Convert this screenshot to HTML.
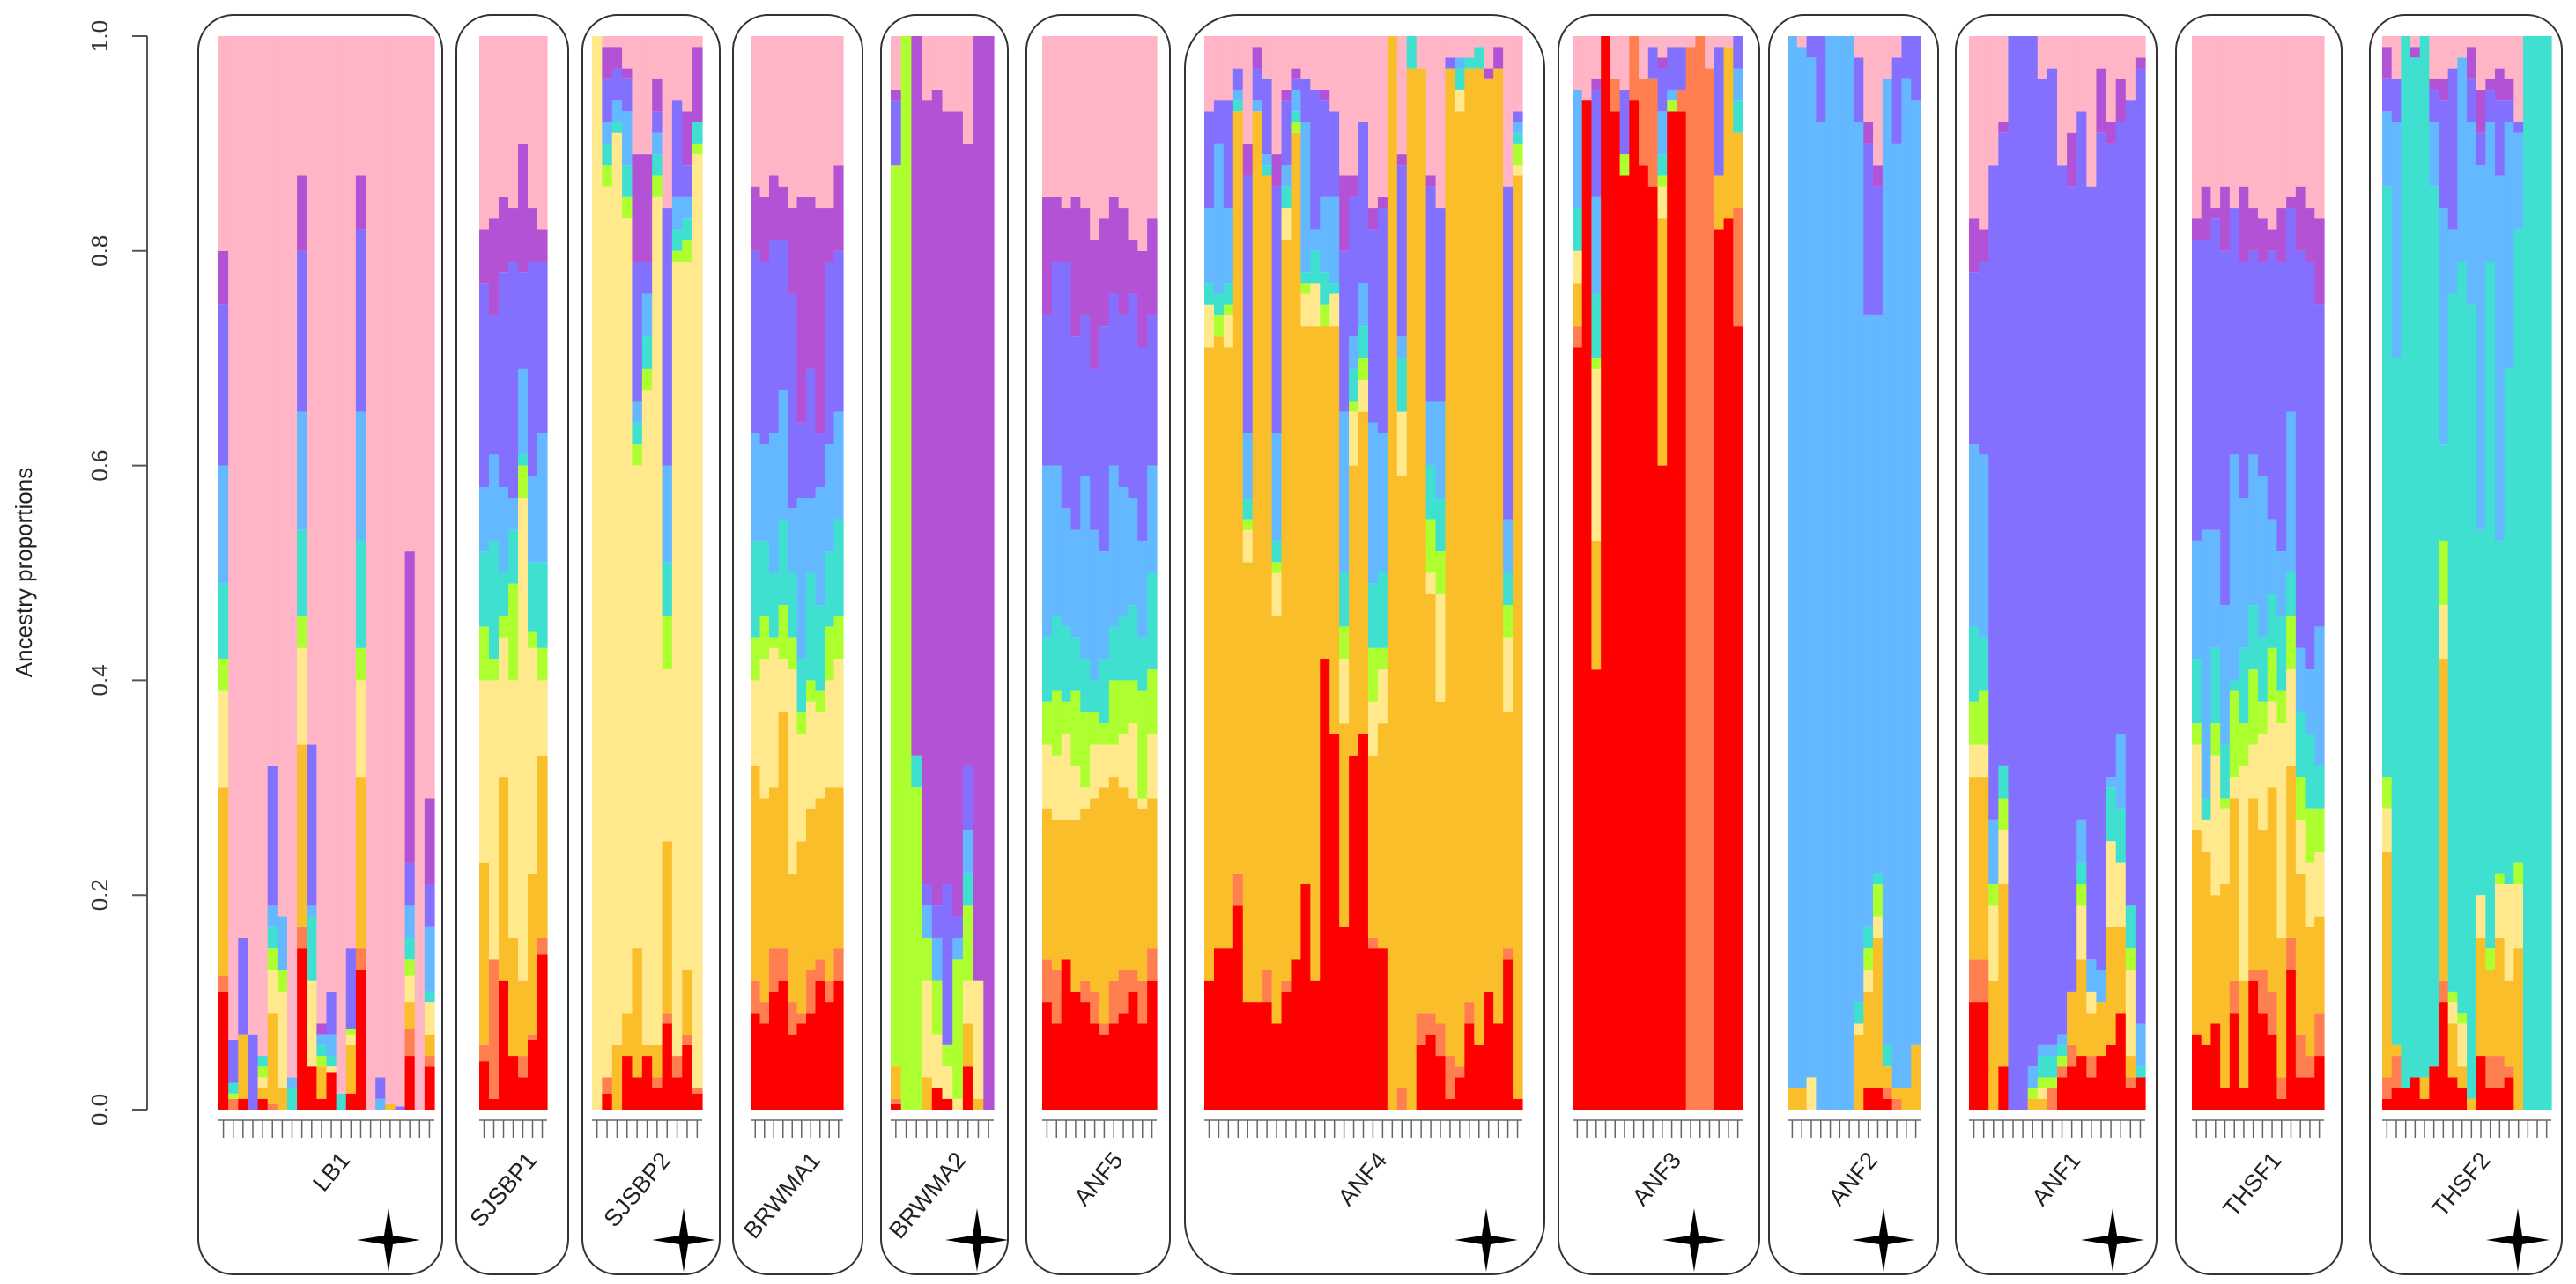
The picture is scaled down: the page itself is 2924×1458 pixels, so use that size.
<!DOCTYPE html>
<html><head><meta charset="utf-8">
<style>
html,body{margin:0;padding:0;background:#fff;}
svg{display:block;font-family:"Liberation Sans",sans-serif;}
</style></head>
<body>
<svg id="chart" width="2924" height="1458" viewBox="0 0 2924 1458" xmlns="http://www.w3.org/2000/svg">
<text x="0" y="0" transform="translate(36,650) rotate(-90)" text-anchor="middle" font-size="26" fill="#222">Ancestry proportions</text>
<g id="axis"></g>
<g id="panels"></g>
</svg>
<script>
const colors=["#FF0000","#FF7F50","#FBBE2B","#FFE98C","#ADFF2F","#40E0D0","#63B8FF","#8470FF","#B452D6","#FFB5C5"];
const yTicks=[0,0.2,0.4,0.6,0.8,1.0];
const yTickLabels=["0.0","0.2","0.4","0.6","0.8","1.0"];
const popNames=["LB1","SJSBP1","SJSBP2","BRWMA1","BRWMA2","ANF5","ANF4","ANF3","ANF2","ANF1","THSF1","THSF2"];
const popStar=[1,0,1,0,1,0,1,1,1,1,0,1];
// cumulative tops of first 9 clusters per individual (pink fills rest)
const LB1=[[.11,.125,.30,.39,.42,.49,.60,.75,.80],[0,.01,.01,.01,.015,.025,.025,.065,.065],[.01,.01,.07,.07,.07,.07,.07,.16,.16],[0,0,0,0,0,0,0,.07,.07],[.01,.01,.02,.03,.04,.05,.05,.05,.05],[0,.005,.09,.13,.15,.17,.19,.32,.32],[0,0,.02,.11,.13,.13,.18,.18,.18],[0,0,0,0,0,.02,.03,.03,.03],[.15,.17,.34,.43,.46,.54,.65,.80,.87],[.04,.04,.04,.12,.12,.18,.19,.34,.34],[.01,.01,.04,.04,.05,.06,.07,.07,.08],[.035,.035,.035,.04,.04,.05,.07,.11,.11],[0,0,0,0,0,.015,.015,.015,.015],[.015,.015,.06,.07,.075,.075,.075,.15,.15],[.13,.15,.31,.40,.43,.53,.65,.82,.87],[0,0,0,0,0,0,0,0,0],[0,0,0,0,0,0,.01,.03,.03],[0,0,.005,.005,.005,.005,.005,.005,.005],[0,0,0,0,0,0,0,.003,.003],[.05,.075,.10,.125,.14,.16,.19,.23,.52],[0,0,0,0,0,0,0,0,0],[.04,.05,.07,.10,.10,.11,.17,.21,.29]];
const SJSBP1=[[.045,.06,.23,.40,.45,.52,.58,.77,.82],[.01,.14,.14,.40,.42,.53,.61,.74,.83],[.12,.12,.31,.44,.46,.50,.58,.78,.85],[.05,.05,.16,.40,.49,.54,.57,.79,.84],[.03,.05,.12,.57,.60,.61,.69,.78,.90],[.065,.07,.22,.43,.445,.51,.59,.79,.84],[.145,.16,.33,.40,.43,.51,.63,.79,.82]];
const SJSBP2=[[0,0,0,1,1,1,1,1,1],[.015,.03,.03,.86,.88,.90,.92,.96,.99],[0,0,.06,.91,.91,.92,.94,.97,.99],[.05,.05,.09,.83,.85,.88,.93,.96,.97],[.03,.03,.15,.60,.62,.64,.66,.79,.89],[.05,.05,.06,.67,.69,.72,.76,.79,.89],[.02,.03,.06,.85,.87,.89,.91,.93,.96],[.08,.09,.25,.41,.46,.51,.60,.84,.84],[.03,.05,.05,.79,.80,.82,.85,.94,.94],[.06,.07,.13,.79,.81,.83,.85,.88,.93],[.015,.02,.02,.89,.90,.92,.92,.92,.99]];
const BRWMA1=[[.09,.12,.32,.40,.44,.53,.63,.80,.86],[.08,.10,.29,.42,.46,.53,.62,.79,.85],[.11,.15,.30,.43,.44,.50,.63,.81,.87],[.12,.15,.37,.42,.47,.55,.67,.81,.86],[.07,.10,.22,.41,.44,.50,.56,.76,.84],[.08,.09,.25,.35,.37,.42,.57,.64,.85],[.09,.13,.28,.38,.40,.50,.57,.69,.85],[.12,.14,.29,.37,.39,.47,.58,.63,.84],[.10,.12,.30,.40,.45,.52,.62,.79,.84],[.12,.15,.30,.42,.46,.55,.65,.80,.88]];
const BRWMA2=[[.005,.01,.04,.04,.88,.88,.88,.94,.95],[0,0,0,0,1,1,1,1,1],[0,0,0,0,.30,.33,.33,.33,1],[0,0,.03,.12,.16,.16,.19,.21,.94],[.02,.02,.02,.07,.12,.12,.16,.19,.95],[.01,.01,.01,.04,.06,.06,.06,.21,.93],[0,0,0,.01,.14,.14,.16,.18,.93],[.04,.04,.08,.12,.19,.22,.26,.32,.90],[0,0,.01,.12,.12,.12,.12,.12,1],[0,0,0,0,0,0,0,0,1]];
const ANF5=[[.10,.14,.28,.34,.38,.44,.60,.74,.85],[.08,.13,.27,.33,.39,.46,.60,.79,.85],[.14,.14,.27,.35,.38,.45,.56,.79,.84],[.11,.11,.27,.32,.39,.44,.54,.72,.85],[.10,.12,.28,.30,.37,.42,.59,.74,.84],[.08,.11,.29,.34,.37,.40,.54,.69,.81],[.07,.08,.30,.34,.36,.42,.52,.73,.83],[.08,.12,.31,.34,.40,.45,.60,.76,.85],[.09,.13,.30,.35,.40,.46,.58,.74,.84],[.11,.13,.29,.36,.40,.47,.57,.76,.81],[.08,.12,.28,.29,.39,.44,.53,.71,.80],[.12,.15,.29,.35,.41,.50,.60,.74,.83]];
const ANF4=[[.12,.12,.71,.75,.75,.77,.84,.93,.93],[.15,.15,.72,.72,.74,.76,.90,.94,.94],[.15,.15,.71,.74,.75,.77,.84,.94,.94],[.19,.22,.93,.93,.93,.94,.95,.97,.97],[.10,.10,.51,.54,.55,.57,.63,.87,.90],[.10,.10,.93,.93,.93,.93,.94,.97,.99],[.10,.13,.87,.87,.87,.88,.89,.96,.96],[.08,.08,.46,.50,.51,.53,.63,.86,.89],[.11,.12,.81,.84,.84,.86,.88,.94,.95],[.14,.14,.91,.91,.92,.93,.95,.96,.97],[.21,.21,.73,.76,.77,.78,.92,.96,.96],[.12,.12,.73,.77,.77,.80,.82,.95,.95],[.42,.42,.73,.73,.75,.78,.85,.94,.95],[.35,.35,.73,.76,.76,.77,.85,.93,.93],[.17,.17,.36,.42,.45,.50,.65,.80,.87],[.33,.33,.60,.65,.66,.69,.72,.85,.87],[.35,.35,.65,.68,.70,.73,.77,.92,.92],[.15,.16,.33,.38,.43,.49,.64,.82,.84],[.15,.15,.36,.41,.43,.50,.63,.84,.85],[0,0,1,1,1,1,1,1,1],[0,.02,.59,.65,.65,.70,.72,.88,.89],[0,0,.97,.97,.97,1,1,1,1],[.06,.09,.97,.97,.97,.97,.97,.97,.97],[.07,.09,.48,.50,.55,.60,.66,.86,.87],[.05,.08,.38,.48,.52,.57,.66,.84,.84],[.01,.05,.97,.97,.97,.97,.97,.98,.98],[.03,.04,.93,.95,.95,.97,.98,.98,.98],[.08,.10,.97,.97,.97,.98,.98,.98,.98],[.06,.06,.97,.97,.97,.99,.99,.99,.99],[.11,.11,.96,.96,.96,.96,.96,.96,.97],[.08,.08,.97,.97,.97,.97,.97,.97,.99],[.14,.15,.37,.44,.47,.50,.55,.86,.86],[.01,.01,.87,.88,.90,.91,.92,.93,.93]];
const ANF3=[[.71,.73,.77,.80,.80,.84,.95,.95,.95],[.94,.94,.94,.94,.94,.94,.94,.94,.94],[.41,.41,.53,.69,.70,.76,.85,.95,.96],[1,1,1,1,1,1,1,1,1],[.93,.96,.96,.96,.96,.96,.96,.96,.96],[.87,.87,.87,.87,.89,.89,.89,.95,.95],[.94,1,1,1,1,1,1,1,1],[.88,.96,.96,.96,.96,.96,.96,.96,.96],[.86,.96,.96,.96,.96,.96,.96,.99,.99],[.60,.60,.83,.86,.87,.89,.93,.97,.98],[.93,.93,.93,.93,.94,.94,.95,.99,.99],[.93,.95,.95,.95,.95,.95,.95,.99,.99],[0,.99,.99,.99,.99,.99,.99,.99,.99],[0,1,1,1,1,1,1,1,1],[0,.97,.97,.97,.97,.97,.97,.97,.97],[.82,.82,.87,.87,.87,.87,.87,.99,.99],[.83,.83,.99,.99,.99,.99,.99,.99,.99],[.73,.84,.91,.91,.91,.94,.97,1,1]];
const ANF2=[[0,0,.02,.02,.02,.02,1,1,1],[0,0,.02,.02,.02,.02,.99,.99,.99],[0,0,0,.03,.03,.03,.98,1,1],[0,0,0,0,0,0,.92,1,1],[0,0,0,0,0,0,1,1,1],[0,0,0,0,0,0,1,1,1],[0,0,0,0,0,0,1,1,1],[0,0,.07,.08,.08,.10,.92,.98,.98],[.02,.02,.11,.13,.15,.17,.74,.90,.92],[.02,.02,.16,.18,.21,.22,.74,.86,.88],[.01,.02,.04,.04,.04,.06,.96,.96,.96],[0,.01,.02,.02,.02,.02,.90,.98,.98],[0,0,.02,.02,.02,.02,.96,1,1],[0,0,.06,.06,.06,.06,.94,1,1]];
const ANF1=[[.10,.14,.31,.34,.38,.45,.62,.78,.83],[.10,.14,.31,.34,.39,.44,.61,.79,.82],[0,0,.12,.19,.21,.21,.27,.88,.88],[.04,.04,.21,.26,.29,.32,.32,.91,.92],[0,0,0,0,0,0,0,1,1],[0,0,0,0,0,0,0,1,1],[0,0,.01,.01,.02,.02,.04,1,1],[0,0,.01,.02,.03,.05,.06,.96,.96],[0,.02,.02,.02,.03,.05,.06,.97,.97],[.03,.04,.04,.04,.05,.06,.07,.88,.88],[.04,.06,.11,.11,.11,.11,.11,.86,.91],[.05,.05,.14,.19,.21,.23,.27,.93,.93],[.03,.05,.09,.11,.11,.11,.14,.86,.86],[.05,.05,.10,.10,.10,.10,.13,.91,.97],[.06,.06,.17,.25,.25,.30,.31,.90,.92],[.09,.09,.17,.23,.23,.28,.35,.92,.96],[.02,.03,.05,.13,.15,.19,.19,.94,.94],[.03,.03,.03,.03,.03,.04,.08,.97,.98]];
const THSF1=[[.07,.07,.26,.34,.36,.42,.53,.81,.83],[.06,.06,.24,.27,.27,.29,.54,.81,.86],[.08,.08,.20,.33,.36,.43,.54,.83,.84],[.02,.02,.21,.28,.29,.34,.47,.80,.86],[.09,.12,.29,.31,.39,.40,.61,.84,.84],[.02,.02,.12,.32,.36,.43,.57,.79,.86],[.12,.13,.29,.34,.41,.47,.61,.80,.84],[.09,.13,.26,.35,.38,.44,.59,.79,.83],[.07,.11,.30,.38,.43,.48,.55,.80,.82],[.01,.03,.16,.36,.39,.46,.52,.79,.84],[.13,.16,.32,.41,.46,.50,.65,.84,.85],[.03,.07,.22,.27,.31,.37,.43,.80,.86],[.03,.05,.17,.23,.28,.35,.41,.79,.84],[.05,.09,.18,.24,.28,.32,.45,.75,.83]];
const THSF2=[[.01,.03,.24,.28,.31,.86,.93,.96,.99],[.02,.05,.06,.06,.06,.70,.92,.96,.96],[.02,.02,.02,.02,.02,1,1,1,1],[.03,.03,.03,.03,.03,.98,.98,.98,.99],[.01,.01,.03,.03,.03,1,1,1,1],[.04,.04,.04,.04,.04,.86,.92,.95,.96],[.10,.12,.42,.47,.53,.62,.84,.94,.96],[.03,.03,.08,.10,.11,.76,.82,.97,.97],[.02,.02,.04,.08,.09,.79,.98,.98,.98],[0,0,.01,.01,.01,.75,.92,.96,.99],[.05,.05,.16,.20,.20,.54,.88,.91,.95],[.02,.05,.13,.13,.15,.79,.92,.95,.96],[.02,.05,.16,.21,.22,.53,.87,.94,.97],[.03,.04,.12,.21,.21,.69,.92,.94,.96],[0,0,.15,.21,.23,.82,.91,.92,.92],[0,0,0,0,0,1,1,1,1],[0,0,0,0,0,1,1,1,1],[0,0,0,0,0,1,1,1,1]];
const popData=[LB1,SJSBP1,SJSBP2,BRWMA1,BRWMA2,ANF5,ANF4,ANF3,ANF2,ANF1,THSF1,THSF2];
// layout (pixels)
const L={bars:[[248,493],[544,621],[672,797],[852,957],[1011,1128],[1183,1313],[1367,1728],[1785,1978],[2029,2180],[2235,2435],[2488,2638],[2704,2896]],
boxes:[[225,502],[518,645],[661,817],[832,979],[1000,1144],[1165,1328],[1345,1753],[1769,1997],[2008,2200],[2220,2448],[2470,2658],[2690,2908]]};
const Y0=1260,Y1=41;
function yScale(v){return Y0-(Y0-Y1)*v;}
const NS="http://www.w3.org/2000/svg";
function mk(tag,attrs,parent){const e=document.createElementNS(NS,tag);for(const k in attrs)e.setAttribute(k,attrs[k]);parent.appendChild(e);return e;}
const axis=document.getElementById('axis');
const al=mk('line',{x1:167,x2:167,y1:yScale(0),y2:yScale(1),stroke:'#555','stroke-width':2},axis);


yTicks.forEach((t,i)=>{
  const tk=mk('line',{x1:150,x2:167,y1:yScale(t),y2:yScale(t),stroke:'#555','stroke-width':2},axis);
  
  
  const tl=mk('text',{transform:`translate(122,${yScale(t)}) rotate(-90)`,'text-anchor':'middle','font-size':26,fill:'#333'},axis);
  tl.textContent=yTickLabels[i];
  
  
});
const panels=document.getElementById('panels');
popData.forEach((pop,p)=>{
  const g=mk('g',{},panels);
  
  
  const [bx0,bx1]=L.boxes[p];
  const r=p===6?60:40;
  const box=mk('rect',{x:bx0,y:17,width:bx1-bx0,height:1430,rx:r,ry:r,fill:'none',stroke:'#333','stroke-width':2},g);
  
  
  const [x0,x1]=L.bars[p];
  const w=(x1-x0)/pop.length;
  pop.forEach((ind,i)=>{
    const bx=x0+i*w;
    let prev=0;
    for(let k=0;k<10;k++){
      const top=k<9?Math.max(prev,Math.min(1,ind[k])):1;
      if(top>prev){
        const rc=mk('rect',{x:bx.toFixed(2),y:yScale(top).toFixed(2),width:(w+0.6).toFixed(2),height:(yScale(prev)-yScale(top)).toFixed(2),fill:colors[k]},g);
        
        
      }
      prev=top;
    }
    const tk=mk('line',{x1:bx+w/2,x2:bx+w/2,y1:1272,y2:1292,stroke:'#666','stroke-width':1.5},g);
    
    
  });
  const bl=mk('line',{x1:x0,x2:x1,y1:1272,y2:1272,stroke:'#666','stroke-width':1.5},g);
  
  
  const cx=(x0+x1)/2;
  const lab=mk('text',{transform:`translate(${cx+28},1318) rotate(-50)`,'text-anchor':'end','font-size':27,fill:'#222'},g);
  lab.textContent=popNames[p];
  
  
  if(popStar[p]){
    const sx={0:441,2:776,4:1109,6:1687,7:1923,8:2138,9:2398,11:2858}[p];
    const sy=1408;
    const st=mk('path',{d:`M${sx-36},${sy} L${sx-5},${sy-5} L${sx},${sy-36} L${sx+5},${sy-5} L${sx+36},${sy} L${sx+5},${sy+5} L${sx},${sy+36} L${sx-5},${sy+5} Z`,fill:'#000'},g);
    
    
  }
});
</script>
</body></html>
